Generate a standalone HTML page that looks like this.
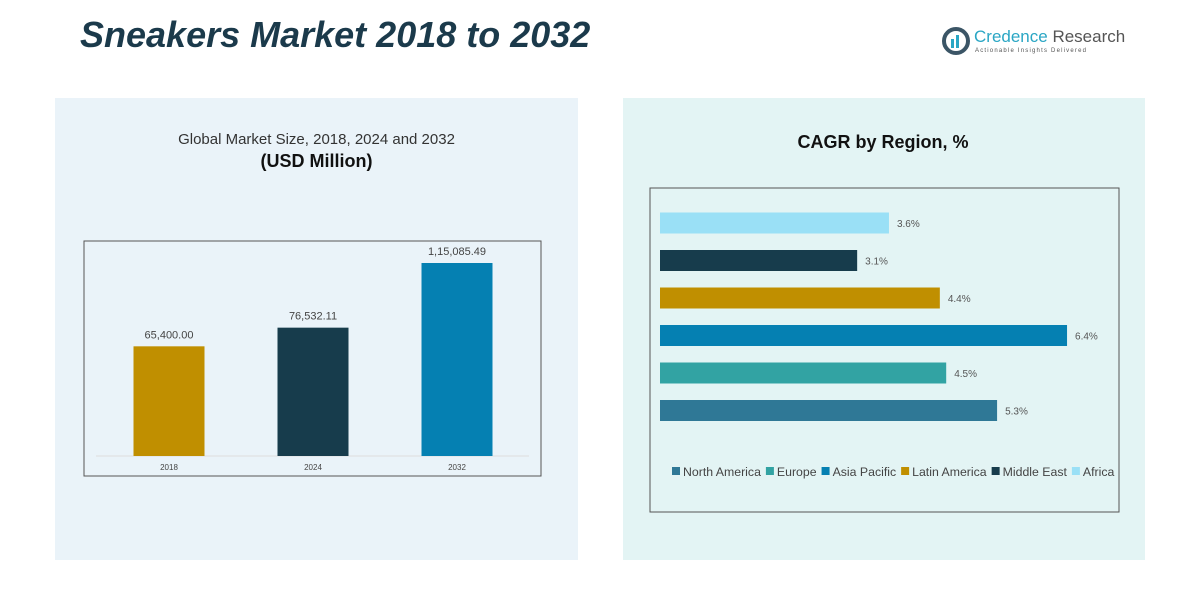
<!DOCTYPE html>
<html><head><meta charset="utf-8"><style>
body{margin:0;width:1181px;height:607px;background:#fff;font-family:"Liberation Sans",sans-serif;position:relative;overflow:hidden}
.a{position:absolute;white-space:nowrap}
</style></head><body>
<div class="a" style="left:80px;top:14px;font-size:36px;font-weight:bold;font-style:italic;color:#1b3a4b">Sneakers Market 2018 to 2032</div>
<div class="a" style="left:942px;top:24px;width:180px;height:34px">
 <svg width="28" height="28" style="position:absolute;left:0;top:3px"><circle cx="14" cy="14" r="12" fill="none" stroke="#3b5566" stroke-width="4"/><rect x="9" y="12" width="3" height="9" fill="#2aa6c4"/><rect x="14" y="8" width="3" height="13" fill="#2aa6c4"/></svg>
 <div class="a" style="left:32px;top:3px;font-size:17px;color:#2aa6c4">Credence <span style="color:#555">Research</span></div>
 <div class="a" style="left:33px;top:24px;font-size:6px;letter-spacing:1.2px;color:#555">Actionable Insights Delivered</div>
</div>
<div class="a" style="left:55px;top:98px;width:523px;height:462px;background:#eaf3f9"></div>
<div class="a" style="left:623px;top:98px;width:522px;height:462px;background:#e3f4f4"></div>
<div class="a" style="left:55px;top:131px;width:523px;text-align:center;font-size:15px;color:#333">Global Market Size, 2018, 2024 and 2032</div>
<div class="a" style="left:55px;top:151px;width:523px;text-align:center;font-size:18px;font-weight:bold;color:#111">(USD Million)</div>
<div class="a" style="left:623px;top:132px;width:700px;margin-left:-90px;text-align:center;font-size:18px;font-weight:bold;color:#111">CAGR by Region, %</div>
<svg class="a" style="left:0;top:0" width="1181" height="607" id="svg"></svg>
<script>
const years=["2018","2024","2032"];
const sizes=[65400.00,76532.11,115085.49];
const sizeLabels=["65,400.00","76,532.11","1,15,085.49"];
const yearColors=["#c08f00","#173c4c","#0580b2"];
const regions=["Africa","Middle East","Latin America","Asia Pacific","Europe","North America"];
const cagr=[3.6,3.1,4.4,6.4,4.5,5.3];
const regionColors=["#9ae0f6","#173c4c","#c08f00","#0580b2","#32a3a3","#2f7896"];
const legendOrder=["North America","Europe","Asia Pacific","Latin America","Middle East","Africa"];
const svg=document.getElementById('svg');const NS='http://www.w3.org/2000/svg';
function mk(t,a,txt){const e=document.createElementNS(NS,t);for(const k in a)e.setAttribute(k,a[k]);if(txt!=null)e.textContent=txt;svg.appendChild(e);return e;}
let f=mk('rect',{x:84,y:241,width:457,height:235,fill:'none',stroke:'#555','stroke-width':1});


const base=456,ys=v=>v*0.001677,xc=i=>169+i*144;
let bl=mk('line',{x1:96,x2:529,y1:base,y2:base,stroke:'#ddd'});


sizes.forEach((v,i)=>{const h=ys(v);
 let r=mk('rect',{x:xc(i)-35.5,y:base-h,width:71,height:h,fill:yearColors[i]});
 
 
 let t=mk('text',{x:xc(i),y:base-h-8,'text-anchor':'middle','font-size':11,fill:'#444'},sizeLabels[i]);
 
 
 let l=mk('text',{x:xc(i),y:470,'text-anchor':'middle','font-size':8,fill:'#444'},years[i]);
 
 
});
let f2=mk('rect',{x:650,y:188,width:469,height:324,fill:'none',stroke:'#555','stroke-width':1});


const xs=v=>v*63.6;
cagr.forEach((v,i)=>{const cy=223+i*37.5;
 let r=mk('rect',{x:660,y:cy-10.5,width:xs(v),height:21,fill:regionColors[i]});
 
 
 let t=mk('text',{x:660+xs(v)+8,y:cy+4,'font-size':10,fill:'#555'},v.toFixed(1)+'%');
 
 
});
let lx=672;
legendOrder.forEach(n=>{const c=regionColors[regions.indexOf(n)];
 let s=mk('rect',{x:lx,y:467,width:8,height:8,fill:c});
 
 
 let t=mk('text',{x:lx+11,y:476,'font-size':12.3,fill:'#444'},n);
 
 
 lx+=11+t.getComputedTextLength()+5;
});
</script>
</body></html>
